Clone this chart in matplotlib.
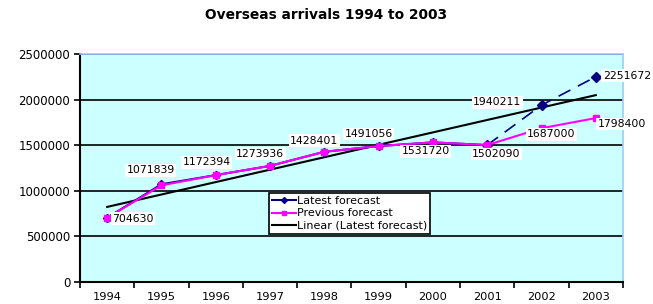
import matplotlib
matplotlib.use("Agg")
import matplotlib.pyplot as plt
import numpy as np
from matplotlib.lines import Line2D

years = ["1994", "1995", "1996", "1997", "1998", "1999", "2000", "2001", "2002", "2003"]
latest = [704630, 1071839, 1172394, 1273936, 1428401, 1491056, 1531720, 1502090, 1940211, 2251672]
previous = [704630, 1060000, 1172394, 1273936, 1428401, 1491056, 1531720, 1502090, 1687000, 1798400]
prev_labels_idx = [8, 9]
yticks = [0, 500000, 1000000, 1500000, 2000000, 2500000]

plt.rcParams['font.family'] = ['DejaVu Sans']

fig = plt.figure(figsize=(6.53, 3.04), dpi=100)
ax = fig.add_axes([0.1225, 0.0724, 0.8315, 0.7496])
ax.set_facecolor('#CCFFFF')

x = np.arange(len(years))
navy = '#000080'
mag = '#FF00FF'

# latest forecast: solid up to 2001, dashed beyond
ax.plot(x[:8], latest[:8], color=navy, lw=1.5, marker='D', ms=4, zorder=3)
ax.plot(x[7:], latest[7:], color=navy, lw=1.2, ls=(0, (8, 5)), marker='D', ms=5, zorder=3)
# previous forecast
ax.plot(x, previous, color=mag, lw=1.5, marker='s', ms=4, zorder=4)
# linear trend of latest forecast
coef = np.polyfit(x, latest, 1)
ax.plot(x, np.polyval(coef, x), color='black', lw=1.5, zorder=2)

handles = [Line2D([], [], color=navy, lw=1.5, marker='D', ms=3),
           Line2D([], [], color=mag, lw=1.5, marker='s', ms=3),
           Line2D([], [], color='black', lw=1.5)]
leg = ax.legend(handles, ['Latest forecast', 'Previous forecast', 'Linear (Latest forecast)'],
                loc='upper left', bbox_to_anchor=(0.348, 0.392), fontsize=8.0, frameon=True,
                fancybox=False, handlelength=2.1, handletextpad=0.1, borderpad=0.3,
                labelspacing=0.22, borderaxespad=0)
leg.get_frame().set_edgecolor('black')
leg.get_frame().set_linewidth(1.2)
leg.get_frame().set_alpha(1)
leg.set_zorder(5)

box = dict(facecolor='white', edgecolor='none', pad=1)
fs = 7.8
lat_off = [(5, -1, 'left', 'center'), (-11, 9, 'center', 'bottom'), (-9, 8, 'center', 'bottom'),
           (-10, 7, 'center', 'bottom'), (-10, 6, 'center', 'bottom'), (-10, 7, 'center', 'bottom'),
           (-7, -4, 'center', 'top'), (9, -4, 'center', 'top'), (-20, 3, 'right', 'center'),
           (7, 1, 'left', 'center')]
for i, v in enumerate(latest):
    dx, dy, ha, va = lat_off[i]
    ax.annotate(str(v), (x[i], v), xytext=(dx, dy), textcoords='offset pixels',
                ha=ha, va=va, fontsize=fs, bbox=box, zorder=6)
prev_off = {8: (10, -6, 'center', 'center'), 9: (2, -6, 'left', 'center')}
for i in prev_labels_idx:
    dx, dy, ha, va = prev_off[i]
    ax.annotate(str(previous[i]), (x[i], previous[i]), xytext=(dx, dy), textcoords='offset pixels',
                ha=ha, va=va, fontsize=fs, bbox=box, zorder=6)

ax.set_xlim(-0.5, len(years) - 0.5)
ax.set_ylim(0, 2500000)
ax.set_yticks(yticks)
ax.set_yticklabels([str(t) for t in yticks], fontsize=8.5)
ax.set_xticks(x)
ax.set_xticklabels(years, fontsize=8.2)
ax.set_xticks(np.arange(-0.5, len(years)), minor=True)
ax.tick_params(axis='x', which='major', length=0, pad=7)
ax.tick_params(axis='x', which='minor', length=4, width=1.2, color='black')
ax.tick_params(axis='y', length=4, width=1.2, color='black', pad=3)
ax.yaxis.grid(True, color='black', lw=1.2)
ax.set_axisbelow(True)
for s in ['left', 'bottom']:
    ax.spines[s].set_color('black')
    ax.spines[s].set_linewidth(1.5)
for s in ['top', 'right']:
    ax.spines[s].set_color('#99CCFF')
    ax.spines[s].set_linewidth(1.2)

fig.text(0.5, 0.952, 'Overseas arrivals 1994 to 2003', ha='center', va='center',
         fontsize=9.9, fontweight='bold')

fig.savefig('out.png', dpi=100)
